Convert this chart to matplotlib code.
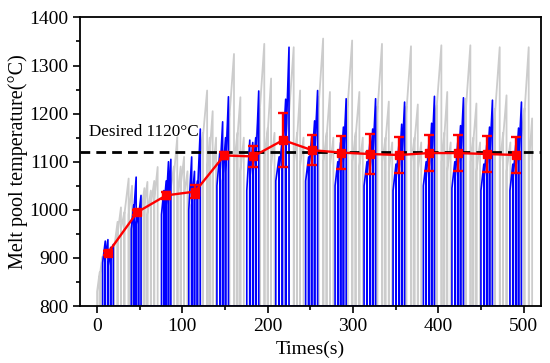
import numpy as np
import matplotlib
matplotlib.use("Agg")
import matplotlib.pyplot as plt

plt.rcParams['font.family'] = ['Liberation Serif', 'DejaVu Serif']

BASE = 800

# ---- gray (uncontrolled) signal: tracks (start time, end time, start temp, end temp)
gray_t0 = [0, 3,
           20, 24, 28, 32, 37,
           52, 55.5, 59, 63, 67,
           86, 90, 94.5, 98, 102,
           120, 124, 129.5, 132, 135.5,
           150.5, 155, 161, 164.5, 168,
           186, 190.5, 196.5, 200, 204,
           220.5, 225, 231, 234.5, 238,
           255, 259.5, 265.5, 269, 273,
           289, 293.5, 299.5, 303, 307.5,
           324, 328.5, 334.5, 338, 342,
           358, 362.5, 368.5, 372, 376,
           393.5, 398, 404, 407, 410.5,
           427.5, 432, 438, 441, 444.7,
           462, 466.5, 472.5, 476, 480,
           496, 501, 506.5]
gray_t1 = [3, 6,
           24, 28, 32, 37, 41,
           55.5, 59, 63, 67, 71,
           90, 94, 98, 102, 106,
           124, 129, 132, 135.5, 139.5,
           155, 160.5, 164.5, 168, 172,
           190.5, 196, 200, 204, 208,
           225, 230.5, 234.5, 238, 242,
           259.5, 265, 269, 273, 277,
           293.5, 299, 303, 307.5, 311.5,
           328.5, 334, 338, 342, 346,
           362.5, 368, 372, 376, 380,
           398, 403.6, 407, 410.5, 414.5,
           432, 437.6, 441, 444.7, 449,
           466.5, 472, 476, 480, 484.5,
           501, 506, 510]
gray_v0 = [830, 860,
           920, 950, 960, 990, 990,
           1000, 1010, 990, 1010, 1020,
           1040, 1070, 1030, 1050, 1030,
           1100, 1150, 1090, 1120, 1070,
           1130, 1190, 1100, 1150, 1080,
           1140, 1200, 1110, 1160, 1090,
           1140, 1200, 1100, 1150, 1090,
           1140, 1210, 1100, 1150, 1090,
           1140, 1210, 1100, 1150, 1090,
           1130, 1200, 1100, 1140, 1080,
           1130, 1200, 1100, 1140, 1080,
           1130, 1210, 1100, 1150, 1080,
           1130, 1200, 1100, 1140, 1080,
           1130, 1200, 1100, 1150, 1080,
           1130, 1200, 1100]
gray_v1 = [870, 902,
           975, 1005, 995, 1065, 1050,
           1045, 1058, 1040, 1060, 1089,
           1090, 1151, 1090, 1110, 1080,
           1160, 1248, 1150, 1205, 1150,
           1200, 1324, 1160, 1234, 1150,
           1210, 1345, 1170, 1273, 1160,
           1220, 1338, 1160, 1248, 1150,
           1235, 1356, 1160, 1245, 1150,
           1225, 1352, 1160, 1245, 1150,
           1215, 1345, 1150, 1225, 1140,
           1215, 1340, 1150, 1219, 1140,
           1217, 1342, 1160, 1245, 1140,
           1231, 1342, 1150, 1221, 1140,
           1210, 1338, 1160, 1238, 1140,
           1211, 1338, 1190]

# ---- blue (controlled) signal: tracks (start time, end time, start temp, end temp)
blue_t0 = [6.5, 9.6, 12.7, 15.9,
           40, 42.9, 45.8, 48.6,
           75.5, 78.2, 81, 83.7,
           107.5, 110.9, 114.2, 117.6,
           140.5, 143.9, 147.2, 150.6,
           175.5, 179, 182.5, 186,
           209.5, 213.4, 217.2, 221.1,
           244.5, 248, 251.5, 255,
           279, 282.2, 285.5, 288.8,
           313, 316.4, 319.8, 323.1,
           347, 350.4, 353.8, 357.1,
           382.5, 385.8, 389, 392.2,
           416, 419.4, 422.8, 426.1,
           450, 453.4, 456.8, 460.1,
           484, 487.4, 490.8, 494.1]
blue_t1 = [9.6, 12.7, 15.9, 19,
           42.9, 45.8, 48.6, 51.5,
           78.2, 81, 83.7, 86.5,
           110.9, 114.2, 117.6, 121,
           143.9, 147.2, 150.6, 154,
           179, 182.5, 186, 189.5,
           213.4, 217.2, 221.1, 225,
           248, 251.5, 255, 258.5,
           282.2, 285.5, 288.8, 292,
           316.4, 319.8, 323.1, 326.5,
           350.4, 353.8, 357.1, 360.5,
           385.8, 389, 392.2, 395.5,
           419.4, 422.8, 426.1, 429.5,
           453.4, 456.8, 460.1, 463.5,
           487.4, 490.8, 494.1, 497.5]
blue_v0 = [890, 900, 880, 895,
           960, 990, 970, 985,
           990, 1000, 1010, 1020,
           1000, 1010, 1020, 1030,
           1050, 1070, 1060, 1080,
           1040, 1060, 1070, 1090,
           1060, 1080, 1100, 1120,
           1060, 1080, 1090, 1110,
           1050, 1065, 1080, 1100,
           1050, 1065, 1080, 1100,
           1040, 1060, 1075, 1095,
           1050, 1065, 1080, 1100,
           1045, 1060, 1080, 1100,
           1040, 1060, 1080, 1100,
           1040, 1060, 1080, 1100]
blue_v1 = [935, 938, 922, 928,
           1010, 1068, 1000, 1030,
           1040, 1060, 1100, 1105,
           1110, 1080, 1060, 1168,
           1120, 1183, 1150, 1235,
           1145, 1140, 1150, 1247,
           1110, 1150, 1230, 1338,
           1110, 1150, 1185, 1248,
           1100, 1140, 1172, 1231,
           1100, 1140, 1168, 1231,
           1095, 1135, 1178, 1224,
           1100, 1140, 1180, 1236,
           1100, 1140, 1175, 1233,
           1095, 1135, 1172, 1228,
           1095, 1135, 1170, 1224]

# ---- averaged melt pool temperature per layer
avg_t = [13, 47, 81, 115, 149, 183, 218, 252, 286, 320, 354, 389, 423, 457, 491]
avg_v = [911, 995, 1030, 1038, 1113, 1111, 1145, 1124, 1119, 1116, 1114, 1118, 1118, 1116, 1114]
avg_err = [4, 5, 8, 13, 8, 22, 57, 31, 35, 41, 38, 38, 38, 38, 38]

desired = 1120


def build(t0, t1, v0, v1):
    xs, ys = [], []
    for a, b, c, d in zip(t0, t1, v0, v1):
        xs += [a, a, b, b]
        ys += [BASE, c, d, BASE]
    return xs, ys


fig = plt.figure(figsize=(5.5, 3.63), dpi=100)
ax = fig.add_axes([0.1455, 0.157, 0.8375, 0.795])

gx, gy = build(gray_t0, gray_t1, gray_v0, gray_v1)
ax.plot(gx, gy, color='#cccccc', lw=1.3, zorder=1)
bx, by = build(blue_t0, blue_t1, blue_v0, blue_v1)
ax.plot(bx, by, color='#0000ff', lw=1.2, zorder=2)

ax.axhline(desired, color='black', lw=2.0, ls=(0, (3.5, 2.2)), zorder=3)
ax.text(-10, 1146, 'Desired 1120\u00b0C', fontsize=12.3, ha='left', va='bottom', zorder=5)

ax.errorbar(avg_t, avg_v, yerr=avg_err, color='#ff0000', lw=1.7, marker='s', ms=6,
            capsize=3.8, capthick=1.7, elinewidth=1.7, zorder=4)

ax.set_xlim(-20, 520)
ax.set_ylim(800, 1400)
ax.set_xticks([0, 100, 200, 300, 400, 500])
ax.set_xticks([50, 150, 250, 350, 450], minor=True)
ax.set_yticks([800, 900, 1000, 1100, 1200, 1300, 1400])
ax.set_yticks([850, 950, 1050, 1150, 1250, 1350], minor=True)
ax.tick_params(which='major', direction='out', length=5, width=1.2, labelsize=14)
ax.tick_params(which='minor', direction='out', length=3, width=1.2)
for s in ax.spines.values():
    s.set_linewidth(1.3)

ax.set_xlabel('Times(s)', fontsize=14, labelpad=4)
ax.set_ylabel('Melt pool temperature(\u00b0C)', fontsize=14.5, labelpad=1)

fig.savefig('out.png', dpi=100)
